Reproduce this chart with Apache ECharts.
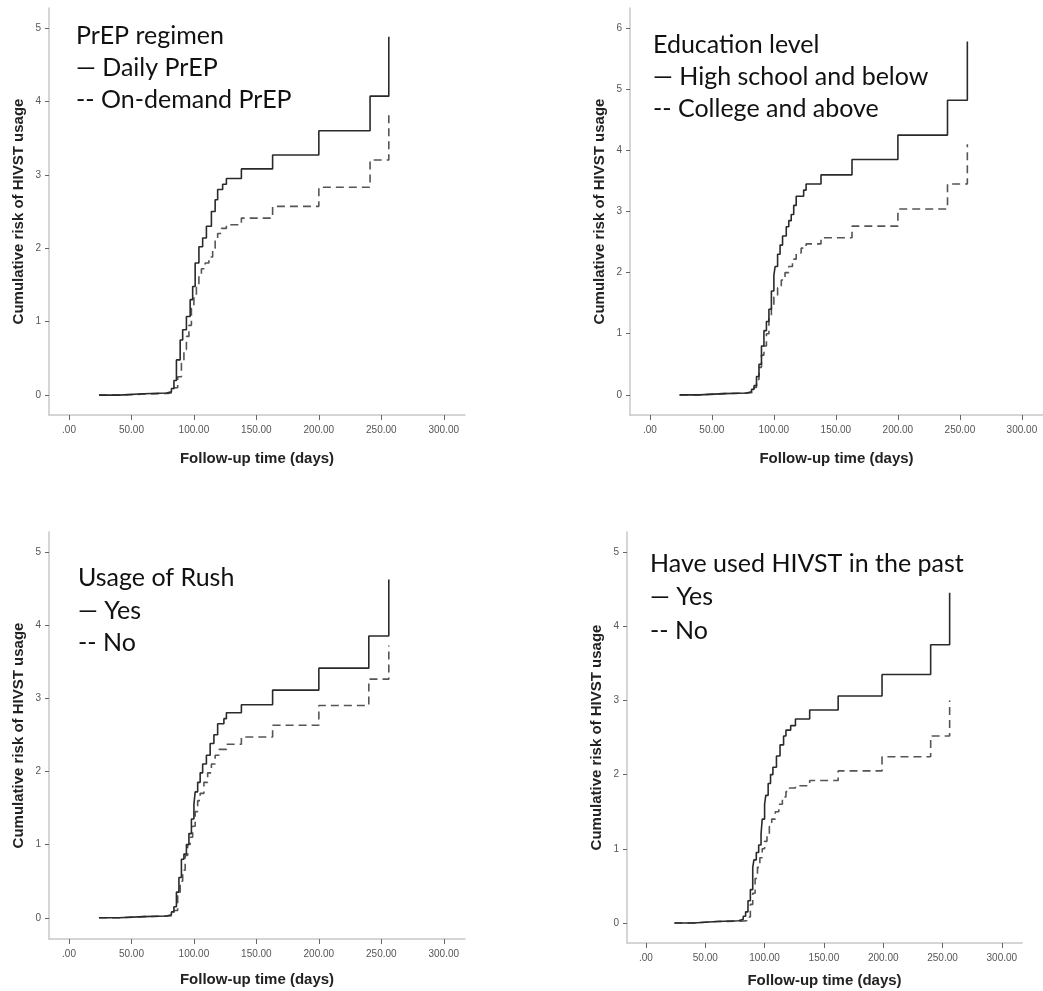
<!DOCTYPE html>
<html>
<head>
<meta charset="utf-8">
<script src="https://cdn.jsdelivr.net/npm/echarts@6/dist/echarts.min.js"></script>
<style>
  html, body { margin: 0; padding: 0; background: #fff; }
  #chart { width: 1043px; height: 991px; }
</style>
</head>
<body>
<div id="chart"></div>
<script>
// Tick values and labels
const xTicks = [0, 50, 100, 150, 200, 250, 300];
const xTickLabels = ['.00', '50.00', '100.00', '150.00', '200.00', '250.00', '300.00'];
const yTicks5 = [0, 1, 2, 3, 4, 5];
const yTicks6 = [0, 1, 2, 3, 4, 5, 6];

// Panel titles / legend lines
const prepLegend = ['PrEP regimen', '— Daily PrEP', '-- On-demand PrEP'];
const eduLegend = ['Education level', '— High school and below', '-- College and above'];
const rushLegend = ['Usage of Rush', '— Yes', '-- No'];
const pastLegend = ['Have used HIVST in the past', '— Yes', '-- No'];

// [day, cumulative risk]
const prepDaily = [[24, 0], [40, 0.02], [60, 0.03], [78, 0.045], [82, 0.09], [84, 0.2], [86, 0.48], [89, 0.75], [91, 0.89], [94, 1.07], [97, 1.3], [99, 1.48], [101, 1.8], [104, 2.02], [107, 2.14], [110, 2.3], [114, 2.5], [117, 2.66], [119, 2.8], [123, 2.87], [126, 2.95], [138, 3.08], [163, 3.27], [200, 3.6], [241, 4.07], [256, 4.88]];
const prepDemand = [[24, 0], [40, 0.015], [60, 0.025], [80, 0.04], [84, 0.1], [87, 0.25], [90, 0.45], [92, 0.62], [94, 0.8], [96, 0.95], [98, 1.18], [100, 1.35], [102, 1.5], [104, 1.62], [106, 1.72], [109, 1.8], [112, 1.88], [115, 2.0], [117, 2.1], [119, 2.2], [122, 2.27], [126, 2.32], [138, 2.41], [163, 2.57], [200, 2.83], [241, 3.2], [256, 3.84]];

const eduHigh = [[24, 0], [40, 0.02], [60, 0.03], [78, 0.05], [82, 0.09], [84, 0.15], [86, 0.3], [88, 0.5], [90, 0.8], [92, 1.05], [94, 1.2], [96, 1.4], [98, 1.7], [100, 1.95], [101, 2.1], [103, 2.3], [105, 2.45], [107, 2.6], [110, 2.75], [112, 2.85], [114, 2.95], [116, 3.1], [118, 3.25], [124, 3.35], [126, 3.45], [138, 3.6], [163, 3.85], [200, 4.25], [240, 4.82], [256, 5.78]];
const eduCollege = [[24, 0], [40, 0.02], [60, 0.03], [80, 0.04], [84, 0.12], [86, 0.25], [88, 0.45], [90, 0.65], [92, 0.8], [94, 1.0], [96, 1.25], [98, 1.45], [100, 1.6], [103, 1.75], [106, 1.88], [109, 2.0], [112, 2.1], [115, 2.22], [118, 2.32], [122, 2.4], [126, 2.47], [138, 2.57], [163, 2.76], [200, 3.04], [240, 3.45], [256, 4.1]];

const rushYes = [[24, 0], [40, 0.015], [60, 0.025], [78, 0.04], [82, 0.08], [84, 0.15], [86, 0.35], [88, 0.55], [90, 0.8], [92, 0.87], [94, 1.0], [96, 1.15], [98, 1.35], [100, 1.55], [101, 1.72], [103, 1.85], [105, 1.98], [107, 2.1], [110, 2.22], [113, 2.38], [116, 2.5], [119, 2.65], [124, 2.72], [126, 2.8], [138, 2.91], [163, 3.11], [200, 3.41], [240, 3.85], [256, 4.62]];
const rushNo = [[24, 0], [40, 0.015], [60, 0.025], [80, 0.03], [84, 0.1], [87, 0.3], [89, 0.5], [91, 0.65], [93, 0.85], [95, 1.0], [97, 1.1], [99, 1.25], [101, 1.45], [103, 1.6], [105, 1.7], [108, 1.85], [111, 1.98], [114, 2.1], [117, 2.22], [120, 2.3], [126, 2.37], [138, 2.47], [163, 2.63], [200, 2.9], [240, 3.26], [256, 3.72]];

const pastYes = [[24, 0], [40, 0.02], [60, 0.03], [78, 0.05], [82, 0.09], [84, 0.15], [86, 0.3], [88, 0.45], [90, 0.75], [91, 0.85], [93, 0.95], [95, 1.05], [97, 1.2], [98, 1.4], [100, 1.6], [101, 1.72], [103, 1.88], [105, 2.0], [107, 2.1], [110, 2.25], [113, 2.4], [116, 2.52], [118, 2.6], [122, 2.66], [126, 2.75], [138, 2.87], [162, 3.06], [199, 3.35], [240, 3.75], [256, 4.45]];
const pastNo = [[24, 0], [40, 0.02], [60, 0.025], [80, 0.03], [85, 0.08], [88, 0.25], [90, 0.4], [92, 0.6], [94, 0.75], [96, 0.88], [98, 1.0], [100, 1.1], [102, 1.2], [104, 1.3], [106, 1.4], [109, 1.5], [112, 1.6], [115, 1.7], [118, 1.77], [121, 1.82], [126, 1.85], [138, 1.92], [162, 2.05], [199, 2.24], [240, 2.52], [256, 3.0]];

// layout of the four panels
const panels = [
  { grid: { left: 49, top: 8, width: 416, height: 407 }, yMin: -0.27, yMax: 5.27, yTicks: yTicks5, xGap: 36, legend: prepLegend, lx: 76, ly: 20, lh: 32, solid: prepDaily, dashed: prepDemand },
  { grid: { left: 630, top: 8, width: 415, height: 407 }, yMin: -0.33, yMax: 6.33, yTicks: yTicks6, xGap: 36, legend: eduLegend, lx: 653, ly: 29, lh: 32, solid: eduHigh, dashed: eduCollege },
  { grid: { left: 49, top: 532, width: 416, height: 407 }, yMin: -0.29, yMax: 5.27, yTicks: yTicks5, xGap: 33, legend: rushLegend, lx: 78, ly: 562, lh: 32.5, solid: rushYes, dashed: rushNo },
  { grid: { left: 627, top: 532, width: 395, height: 411 }, yMin: -0.27, yMax: 5.27, yTicks: yTicks5, xGap: 30, legend: pastLegend, lx: 650, ly: 547, lh: 33.5, solid: pastYes, dashed: pastNo }
];

const axisLineStyle = { color: '#c8c8c8', width: 1.5 };
const tickLabelStyle = { color: '#555', fontSize: 10, fontFamily: 'Liberation Sans, Arial, sans-serif' };
const nameStyle = { color: '#222', fontSize: 15, fontWeight: 'bold', fontFamily: 'Liberation Sans, Arial, sans-serif' };

const option = {
  animation: false,
  backgroundColor: '#fff',
  title: panels.map(p => ({
    text: p.legend.join('\n'),
    left: p.lx,
    top: p.ly,
    padding: 0,
    textStyle: { fontFamily: 'Lato', fontSize: 25, fontWeight: 'normal', color: '#111', lineHeight: p.lh }
  })),
  grid: panels.map(p => Object.assign({ containLabel: false }, p.grid)),
  xAxis: panels.map((p, i) => ({
    type: 'value',
    gridIndex: i,
    min: -16,
    max: 317,
    name: 'Follow-up time (days)',
    nameLocation: 'middle',
    nameGap: p.xGap,
    nameTextStyle: nameStyle,
    axisLine: { show: true, onZero: false, lineStyle: axisLineStyle },
    axisTick: { show: true, length: 5, customValues: xTicks, lineStyle: { color: '#666' } },
    axisLabel: {
      margin: 10,
      customValues: xTicks,
      formatter: v => xTickLabels[xTicks.indexOf(v)] || '',
      ...tickLabelStyle
    },
    splitLine: { show: false }
  })),
  yAxis: panels.map((p, i) => ({
    type: 'value',
    gridIndex: i,
    min: p.yMin,
    max: p.yMax,
    name: 'Cumulative risk of HIVST usage',
    nameLocation: 'middle',
    nameGap: 23,
    nameTextStyle: nameStyle,
    axisLine: { show: true, onZero: false, lineStyle: axisLineStyle },
    axisTick: { show: true, length: 4, customValues: p.yTicks, lineStyle: { color: '#666' } },
    axisLabel: {
      margin: 8,
      customValues: p.yTicks,
      formatter: v => String(v),
      ...tickLabelStyle
    },
    splitLine: { show: false }
  })),
  series: panels.flatMap((p, i) => [
    {
      type: 'line', xAxisIndex: i, yAxisIndex: i, step: 'end', showSymbol: false,
      data: p.dashed,
      lineStyle: { color: '#555', width: 1.6, type: [8, 5] }
    },
    {
      type: 'line', xAxisIndex: i, yAxisIndex: i, step: 'end', showSymbol: false,
      data: p.solid,
      lineStyle: { color: '#2a2a2a', width: 1.6 }
    }
  ])
};

const myChart = echarts.init(document.getElementById('chart'));
myChart.setOption(option);
</script>
</body>
</html>
